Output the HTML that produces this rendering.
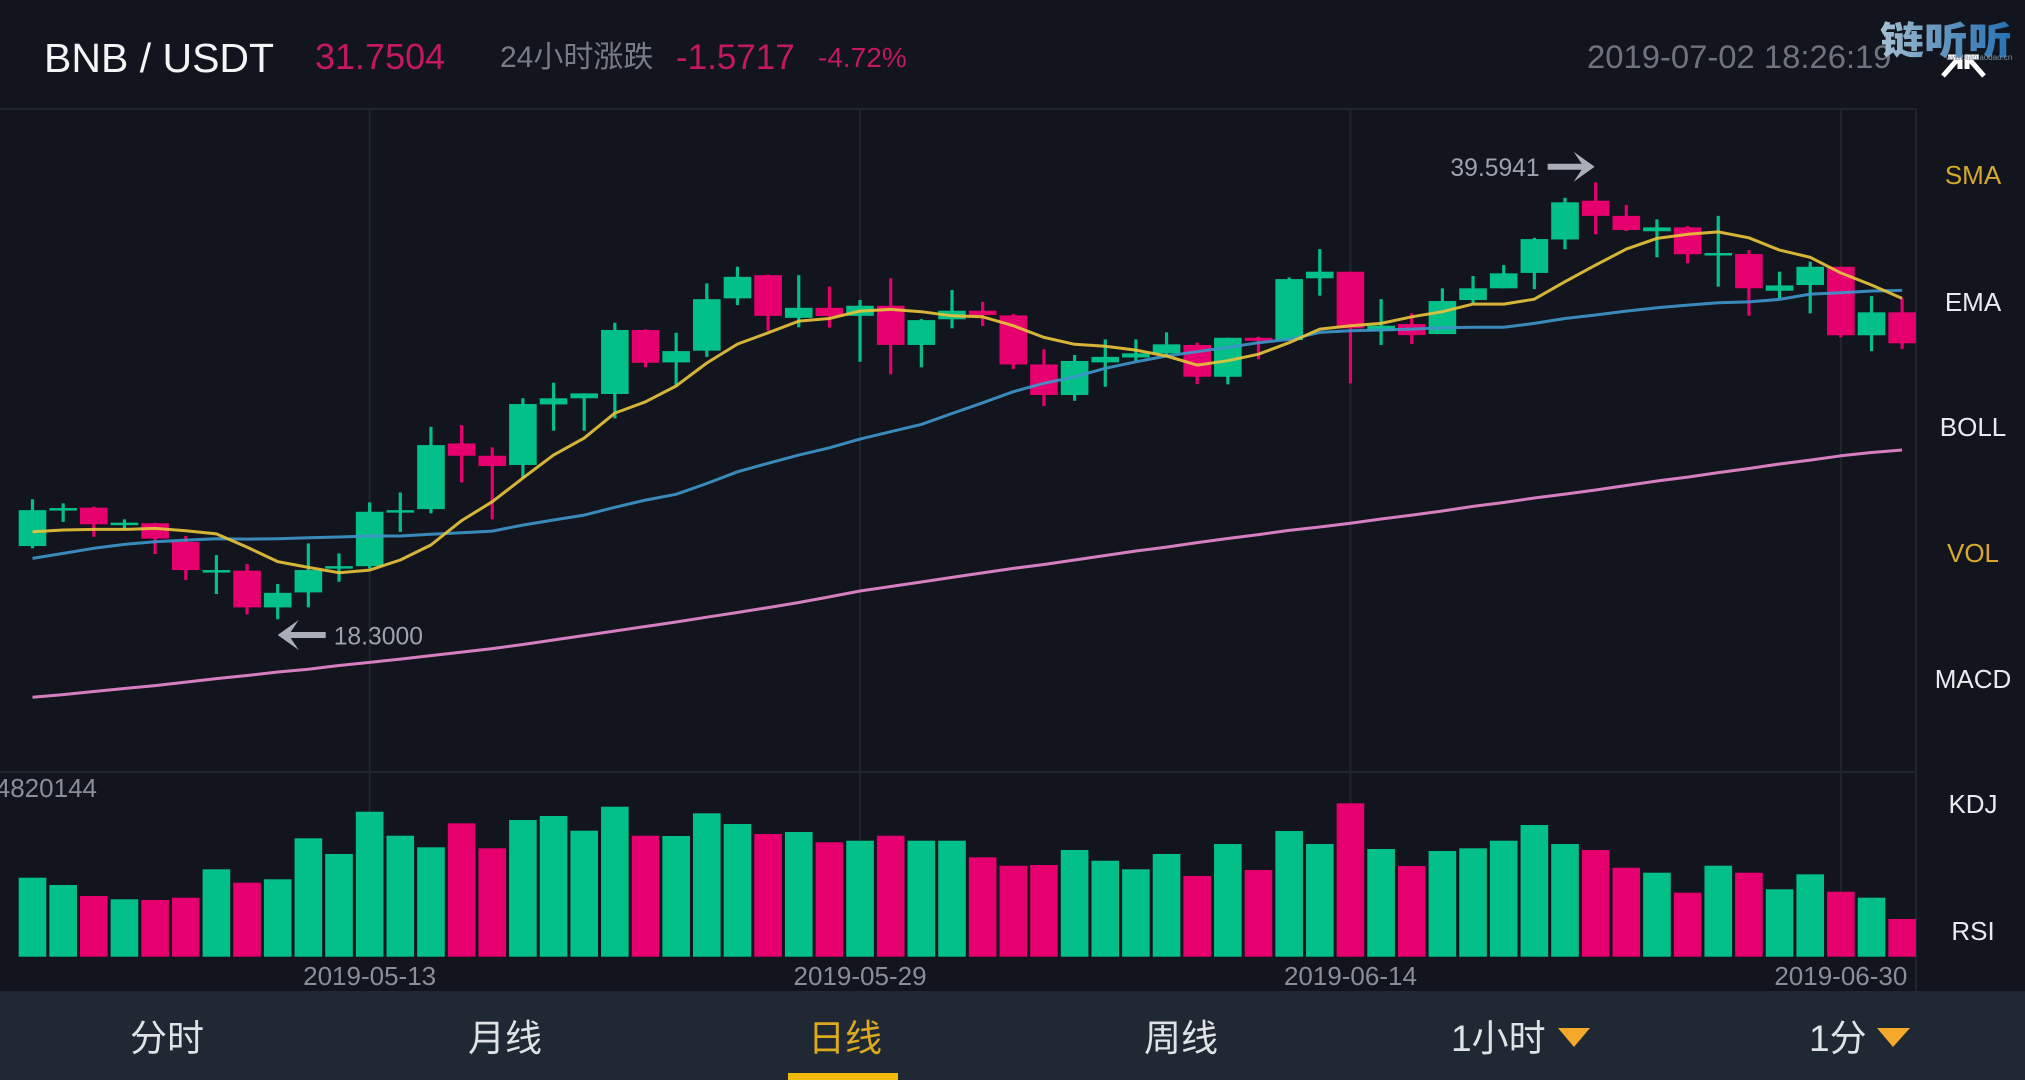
<!DOCTYPE html>
<html lang="zh">
<head>
<meta charset="utf-8">
<title>BNB / USDT</title>
<style>
html,body{margin:0;padding:0;background:#12151d;width:2025px;height:1080px;overflow:hidden}
svg{display:block}
text{font-family:"Liberation Sans","Noto Sans CJK SC",sans-serif}
</style>
</head>
<body>
<svg id="stage" xmlns="http://www.w3.org/2000/svg" width="2025" height="1080" viewBox="0 0 2025 1080">
  <defs>
    <linearGradient id="wm" x1="0" x2="1" y1="0" y2="0">
      <stop offset="0" stop-color="#a9c1d3"/>
      <stop offset="0.38" stop-color="#6f9cc0"/>
      <stop offset="1" stop-color="#2570b4"/>
    </linearGradient>
  </defs>
  <rect x="0" y="0" width="2025" height="1080" fill="#12151d"/>

  <g>
    <text x="44" y="72" font-size="41" fill="#f4f5f7">BNB / USDT</text>
    <text x="315" y="69" font-size="36" fill="#c4185f">31.7504</text>
    <text x="500" y="67" font-size="30" fill="#777b86">24小时涨跌</text>
    <text x="676" y="69" font-size="35" fill="#c4185f">-1.5717</text>
    <text x="818" y="67" font-size="28" fill="#c4185f">-4.72%</text>
    <text x="1587" y="68" font-size="32.8" fill="#6f737d">2019-07-02 18:26:19</text>
  </g>

  <g id="grid">
    <line x1="0" y1="109" x2="1916" y2="109" stroke="#20242c" stroke-width="2"/>
    <line x1="0" y1="772" x2="1916" y2="772" stroke="#20242c" stroke-width="2"/>
    <line x1="1916" y1="109" x2="1916" y2="991" stroke="#20242c" stroke-width="2"/>
  </g>
  <g id="volumes"></g>
  <g id="candles"></g>
  <g id="lines"></g>
  <g id="marks"></g>
  <g id="ticks"></g>

  <g>
    <text x="1973" y="184" font-size="26" text-anchor="middle" fill="#d6a92e">SMA</text>
    <text x="1973" y="311" font-size="26" text-anchor="middle" fill="#e8eaed">EMA</text>
    <text x="1973" y="436" font-size="26" text-anchor="middle" fill="#e8eaed">BOLL</text>
    <text x="1973" y="562" font-size="26" text-anchor="middle" fill="#d6a92e">VOL</text>
    <text x="1973" y="688" font-size="26" text-anchor="middle" fill="#e8eaed">MACD</text>
    <text x="1973" y="813" font-size="26" text-anchor="middle" fill="#e8eaed">KDJ</text>
    <text x="1973" y="940" font-size="26" text-anchor="middle" fill="#e8eaed">RSI</text>
  </g>

  <g>
    <rect x="0" y="991" width="2025" height="89" fill="#1f2833"/>
    <text x="167" y="1051" font-size="37" text-anchor="middle" fill="#dfe3e6">分时</text>
    <text x="505" y="1051" font-size="37" text-anchor="middle" fill="#dfe3e6">月线</text>
    <text x="845" y="1051" font-size="37" text-anchor="middle" fill="#dcaa1e">日线</text>
    <rect x="788" y="1073" width="110" height="7" fill="#f0b90b"/>
    <text x="1181" y="1051" font-size="37" text-anchor="middle" fill="#dfe3e6">周线</text>
    <text x="1451" y="1051" font-size="37" fill="#dfe3e6">1小时</text>
    <polygon points="1558,1028 1590,1028 1574,1047" fill="#f5a92b"/>
    <text x="1809" y="1051" font-size="37" fill="#dfe3e6">1分</text>
    <polygon points="1877,1028 1910,1028 1893,1047" fill="#f5a92b"/>
  </g>

  <g>
    <path d="M1943 76 L1957 60 M1948 57 L1960 57 L1960 69 M1984 76 L1970 60 M1979 57 L1967 57 L1967 69" fill="none" stroke="#ffffff" stroke-width="5"/>
  </g>
  <g>
    <text x="1880" y="54" font-size="38" font-weight="900" fill="url(#wm)" textLength="132" lengthAdjust="spacingAndGlyphs" style="font-family:'Noto Sans CJK SC','WenQuanYi Zen Hei',sans-serif">链听听</text>
    <text x="1946" y="60" font-size="8" fill="#7f8f9e">www.lianlaodao.cn</text>
  </g>
</svg>

<script>
const dates = ["05-02","05-03","05-04","05-05","05-06","05-07","05-08","05-09","05-10","05-11","05-12","05-13","05-14","05-15","05-16","05-17","05-18","05-19","05-20","05-21","05-22","05-23","05-24","05-25","05-26","05-27","05-28","05-29","05-30","05-31","06-01","06-02","06-03","06-04","06-05","06-06","06-07","06-08","06-09","06-10","06-11","06-12","06-13","06-14","06-15","06-16","06-17","06-18","06-19","06-20","06-21","06-22","06-23","06-24","06-25","06-26","06-27","06-28","06-29","06-30","07-01","07-02"];
const tickIndices = [11,27,43,59];
const opens = [21.87,23.62,23.74,22.92,22.98,22.07,20.63,20.67,18.88,19.61,20.82,20.89,23.55,23.67,26.87,26.27,25.82,28.77,29.07,29.28,32.40,30.82,31.39,33.94,35.07,32.99,33.48,33.09,33.58,31.67,32.92,33.34,33.11,30.72,29.23,30.82,31.06,31.26,31.67,30.12,32.02,31.91,34.92,35.24,32.35,32.69,32.20,33.86,34.43,35.18,36.81,38.70,37.96,37.21,37.40,36.08,36.10,34.31,34.59,35.48,32.14,33.26];
const highs = [24.15,23.95,23.79,23.17,23.00,22.36,21.43,20.99,20.02,22.00,21.51,24.00,24.48,27.68,27.76,26.68,29.07,29.83,29.31,32.75,32.43,32.26,34.67,35.48,35.10,35.07,34.51,33.86,34.92,32.93,34.35,33.77,33.18,31.46,31.18,31.94,31.94,32.28,31.78,32.02,32.07,34.96,36.34,35.24,33.90,33.21,34.43,35.03,35.56,36.89,38.84,39.5941,38.49,37.79,37.46,37.96,36.29,35.24,35.73,35.48,34.05,33.94];
const lows = [21.76,23.05,22.32,22.73,21.48,20.21,19.53,18.54,18.30,18.88,20.13,20.78,22.56,23.46,24.97,23.17,25.17,27.49,27.49,28.09,30.58,29.71,31.09,33.61,32.36,32.53,32.51,30.85,30.24,30.58,32.48,32.59,30.50,28.69,28.95,29.63,30.90,31.09,29.76,29.75,30.97,31.87,34.07,29.80,31.67,31.71,32.20,33.70,34.43,34.39,36.33,37.06,37.22,35.94,35.65,34.51,33.09,33.94,33.21,32.04,31.37,31.47];
const closes = [23.62,23.72,22.93,23.01,22.23,20.70,20.70,18.88,19.59,20.70,20.89,23.54,23.62,26.79,26.27,25.77,28.79,29.07,29.31,32.40,30.80,31.37,33.90,34.99,33.09,33.48,33.08,33.58,31.67,32.88,33.34,33.13,30.72,29.23,30.89,31.09,31.26,31.70,30.12,32.02,31.87,34.88,35.24,32.48,32.61,32.15,33.81,34.43,35.16,36.83,38.62,37.96,37.27,37.40,36.09,36.15,34.43,34.57,35.48,32.14,33.26,31.75];
const volumesK = [2482,2253,1907,1804,1782,1854,2746,2325,2432,3720,3227,4556,3802,3437,4191,3406,4295,4421,3959,4713,3802,3792,4506,4169,3855,3918,3594,3645,3802,3645,3645,3123,2859,2881,3353,3016,2746,3227,2536,3541,2724,3949,3541,4820.144,3384,2850,3321,3406,3645,4138,3541,3353,2796,2639,2011,2859,2639,2118,2589,2042,1854,1185];
const smaValues = [22.57,22.65,22.68,22.68,22.73,22.62,22.46,21.82,21.11,20.83,20.57,20.70,21.19,21.92,23.11,24.03,25.18,26.30,27.13,28.35,28.90,29.67,30.79,31.71,32.26,32.83,32.96,33.32,33.40,33.29,33.09,33.04,32.61,32.04,31.70,31.61,31.42,31.13,30.69,30.90,31.22,31.78,32.44,32.61,32.72,33.04,33.29,33.66,33.66,33.90,34.75,35.56,36.34,36.86,37.06,37.18,36.89,36.29,35.94,35.18,34.59,33.94];
const emaValues = [21.27,21.51,21.76,21.95,22.08,22.16,22.23,22.21,22.23,22.27,22.31,22.36,22.36,22.44,22.52,22.60,22.89,23.14,23.38,23.76,24.11,24.39,24.92,25.49,25.90,26.30,26.66,27.08,27.44,27.80,28.33,28.85,29.39,29.80,30.12,30.53,30.85,31.13,31.34,31.55,31.78,31.94,32.28,32.36,32.40,32.44,32.51,32.53,32.53,32.72,32.96,33.13,33.32,33.48,33.61,33.73,33.77,33.89,34.15,34.21,34.30,34.33];
const slowMaValues = [14.50,14.63,14.78,14.93,15.07,15.24,15.41,15.56,15.73,15.87,16.05,16.20,16.36,16.53,16.70,16.87,17.07,17.29,17.51,17.73,17.95,18.17,18.40,18.63,18.87,19.12,19.39,19.68,19.90,20.12,20.34,20.56,20.78,20.97,21.19,21.41,21.63,21.82,22.04,22.24,22.43,22.63,22.80,22.98,23.19,23.38,23.58,23.80,23.99,24.21,24.40,24.60,24.82,25.04,25.23,25.45,25.65,25.87,26.06,26.27,26.43,26.55];

const NS = "http://www.w3.org/2000/svg";
const UP = "#03c088";
const DOWN = "#e6006f";
const X0 = 32.5;
const STEP = 30.65;
const BODY_W = 27.6;
const WICK_W = 3.2;
const PRICE_MIN = 18.3;
const PRICE_BOTTOM = 619.3;
const PX_PER_UNIT = 20.52;
const VOL_BASE = 956.7;
const VOL_PX_PER_K = 153.4 / 4820.144;

function xAt(i) { return X0 + STEP * i; }
function yPrice(p) { return PRICE_BOTTOM - (p - PRICE_MIN) * PX_PER_UNIT; }
function yVol(v) { return VOL_BASE - v * VOL_PX_PER_K; }
function mk(tag, parent, attrs) {
  const el = document.createElementNS(NS, tag);
  for (const k in attrs) el.setAttribute(k, attrs[k]);
  parent.appendChild(el);
  return el;
}

const gridG = document.getElementById("grid");
tickIndices.forEach(function (i) {
  const gl = mk("line", gridG, { x1: xAt(i), x2: xAt(i), y1: 109, y2: VOL_BASE, stroke: "#20242c", "stroke-width": 2 });
  
  
});

const volG = document.getElementById("volumes");
volumesK.forEach(function (v, i) {
  const r = mk("rect", volG, { x: xAt(i) - BODY_W / 2, y: yVol(v), width: BODY_W, height: VOL_BASE - yVol(v), fill: closes[i] >= opens[i] ? UP : DOWN });
  
  
});

const candG = document.getElementById("candles");
dates.forEach(function (d, i) {
  const col = closes[i] >= opens[i] ? UP : DOWN;
  const wick = mk("line", candG, { x1: xAt(i), x2: xAt(i), y1: yPrice(highs[i]), y2: yPrice(lows[i]), stroke: col, "stroke-width": WICK_W });
  
  
  const top = yPrice(Math.max(opens[i], closes[i]));
  const h = Math.max(yPrice(Math.min(opens[i], closes[i])) - top, 2.5);
  const body = mk("rect", candG, { x: xAt(i) - BODY_W / 2, y: top, width: BODY_W, height: h, fill: col });
  
  
});

const lineG = document.getElementById("lines");
function linePath(values) {
  return values.map(function (v, i) { return (i ? "L" : "M") + xAt(i).toFixed(1) + " " + yPrice(v).toFixed(1); }).join(" ");
}
const slowLine = mk("path", lineG, { d: linePath(slowMaValues), fill: "none", stroke: "#d67fc0", "stroke-width": 3, "stroke-linejoin": "round" });


const emaLine = mk("path", lineG, { d: linePath(emaValues), fill: "none", stroke: "#3d95c9", "stroke-width": 3, "stroke-linejoin": "round", opacity: 0.92 });


const smaLine = mk("path", lineG, { d: linePath(smaValues), fill: "none", stroke: "#e6c23a", "stroke-width": 3, "stroke-linejoin": "round", opacity: 0.92 });



const marksG = document.getElementById("marks");
const maxHigh = Math.max.apply(null, highs);
const minLow = Math.min.apply(null, lows);
const hiX = xAt(highs.indexOf(maxHigh)) - 1;
const hiY = yPrice(maxHigh) - 15.6;
const loX = xAt(lows.indexOf(minLow));
const loY = yPrice(minLow) + 15.7;
const hiArrow = mk("polygon", marksG, { points: [[hiX, hiY], [hiX - 21, hiY - 15], [hiX - 13, hiY - 3], [hiX - 47, hiY - 3], [hiX - 47, hiY + 3], [hiX - 13, hiY + 3], [hiX - 21, hiY + 15]].join(" "), fill: "#a9aeb9" });


const hiLabel = mk("text", marksG, { x: hiX - 55, y: hiY + 9.5, "font-size": 24.7, "text-anchor": "end", fill: "#9da2ad" });


hiLabel.textContent = maxHigh.toFixed(4);
const loArrow = mk("polygon", marksG, { points: [[loX, loY], [loX + 21, loY - 15], [loX + 13, loY - 3], [loX + 48, loY - 3], [loX + 48, loY + 3], [loX + 13, loY + 3], [loX + 21, loY + 15]].join(" "), fill: "#a9aeb9" });


const loLabel = mk("text", marksG, { x: loX + 56, y: loY + 9.5, "font-size": 24.7, fill: "#9da2ad" });


loLabel.textContent = minLow.toFixed(4);

const ticksG = document.getElementById("ticks");
tickIndices.forEach(function (i) {
  const t = mk("text", ticksG, { x: xAt(i), y: 985, "font-size": 26, "text-anchor": "middle", fill: "#8a8e99" });
  
  
  t.textContent = "2019-" + dates[i];
});
const volMaxLabel = mk("text", ticksG, { x: 97, y: 797, "font-size": 26, "text-anchor": "end", fill: "#8a8e99" });


volMaxLabel.textContent = String(Math.round(Math.max.apply(null, volumesK) * 1000));
</script>
</body>
</html>
